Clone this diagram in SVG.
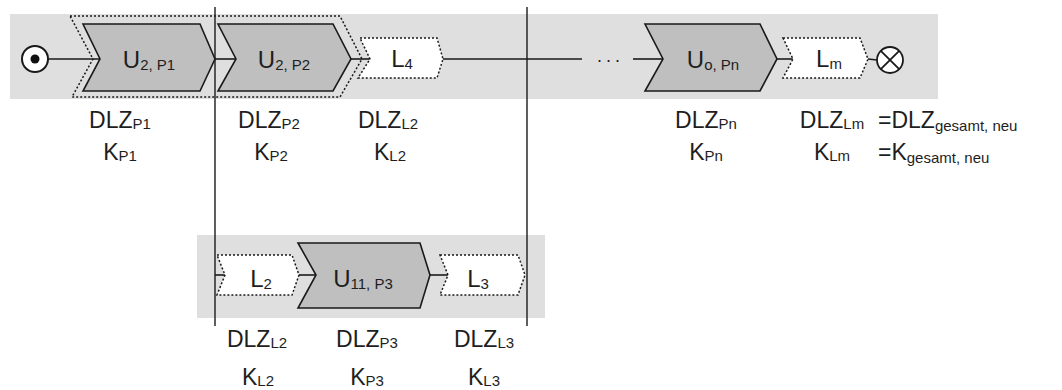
<svg xmlns="http://www.w3.org/2000/svg" width="1062" height="390" viewBox="0 0 1062 390">
<style>
  .band { fill: #dfdfdf; }
  .proc { fill: #bfbfbf; stroke: #1a1a1a; stroke-width: 1.6; stroke-linejoin: miter; }
  .log { fill: #ffffff; stroke: #1a1a1a; stroke-width: 1.5; stroke-dasharray: 2 2; }
  .grp { fill: none; stroke: #1a1a1a; stroke-width: 1.5; stroke-dasharray: 2 2; }
  .conn { stroke: #1a1a1a; stroke-width: 1.6; fill: none; }
  .div { stroke: #1a1a1a; stroke-width: 1.4; fill: none; }
  text { font-family: "Liberation Sans", Arial, sans-serif; fill: #1e1e1e; }
  .lbl { font-size: 23px; text-anchor: middle; }
  .lbls { font-size: 23px; text-anchor: start; }
  .nt { font-size: 24px; text-anchor: middle; }
  .sub { font-size: 15px; }
</style>

<!-- background bands -->
<rect class="band" x="10" y="14" width="928" height="85"/>
<rect class="band" x="197" y="235" width="348" height="83"/>

<!-- connectors -->
<g id="connectors">
  <line class="conn" x1="48" y1="59" x2="100" y2="59"/>
  <line class="conn" x1="215" y1="59" x2="236" y2="59"/>
  <line class="conn" x1="351" y1="59" x2="370" y2="59"/>
  <line class="conn" x1="443" y1="59" x2="582" y2="59"/>
  <line class="conn" x1="633" y1="59" x2="663" y2="59"/>
  <line class="conn" x1="777" y1="59" x2="793" y2="59"/>
  <line class="conn" x1="868" y1="59" x2="877" y2="60"/>
  <line class="conn" x1="215" y1="275" x2="225" y2="275"/>
  <line class="conn" x1="299" y1="275" x2="316" y2="275"/>
  <line class="conn" x1="430" y1="275" x2="448" y2="275"/>
  <text x="610" y="66" style="font-size:18px;text-anchor:middle;letter-spacing:3px">···</text>
</g>

<!-- dividers -->
<g id="dividers">
  <line class="div" x1="215" y1="7" x2="215" y2="326"/>
  <line class="div" x1="527" y1="7" x2="527" y2="326"/>
</g>

<!-- start -->
<g id="start">
  <circle cx="35" cy="59" r="13" fill="#ffffff" stroke="#1a1a1a" stroke-width="2"/>
  <circle cx="35" cy="59" r="4.5" fill="#111111"/>
</g>

<!-- group outline -->
<g id="group-p1-p2">
  <polygon class="grp" points="70,16 340,16 362,59 340,97 72,97 93,59"/>
</g>

<g id="u2p1">
  <polygon class="proc" points="83,24 200,24 215,59 200,91 83,91 100,59"/>
  <text class="nt" x="149" y="68">U<tspan class="sub" dy="2">2, P1</tspan></text>
</g>

<g id="u2p2">
  <polygon class="proc" points="218,24 333,24 351,59 333,91 218,91 236,59"/>
  <text class="nt" x="284" y="68">U<tspan class="sub" dy="2">2, P2</tspan></text>
</g>

<g id="l4">
  <polygon class="log" points="360,38 437,38 443,59 437,78 358,78 370,59"/>
  <text class="nt" x="402" y="67">L<tspan class="sub" dy="2">4</tspan></text>
</g>

<g id="uopn">
  <polygon class="proc" points="645,24 760,24 777,59 760,91 645,91 663,59"/>
  <text class="nt" x="713" y="68">U<tspan class="sub" dy="2">o, Pn</tspan></text>
</g>

<g id="lm">
  <polygon class="log" points="783,38 860,38 868,59 860,78 783,78 793,59"/>
  <text class="nt" x="829" y="67">L<tspan class="sub" dy="2">m</tspan></text>
</g>

<g id="end">
  <circle cx="890" cy="60" r="13" fill="#ffffff" stroke="#1a1a1a" stroke-width="1.8"/>
  <line x1="880.8" y1="50.8" x2="899.2" y2="69.2" stroke="#1a1a1a" stroke-width="1.8"/>
  <line x1="899.2" y1="50.8" x2="880.8" y2="69.2" stroke="#1a1a1a" stroke-width="1.8"/>
</g>

<g id="l2">
  <polygon class="log" points="217,255 292,255 299,275 292,295 217,295 225,275"/>
  <text class="nt" x="261" y="287">L<tspan class="sub" dy="2">2</tspan></text>
</g>

<g id="u11p3">
  <polygon class="proc" points="298,243 420,243 430,275 420,308 298,308 316,275"/>
  <text class="nt" x="363" y="287">U<tspan class="sub" dy="2">11, P3</tspan></text>
</g>

<g id="l3">
  <polygon class="log" points="440,255 518,255 525,275 518,295 440,295 448,275"/>
  <text class="nt" x="478" y="287">L<tspan class="sub" dy="2">3</tspan></text>
</g>

<!-- metrics labels -->
<g id="labels">
  <text class="lbl" x="120" y="128">DLZ<tspan class="sub" dy="1">P1</tspan></text>
  <text class="lbl" x="120" y="160">K<tspan class="sub" dy="1">P1</tspan></text>
  <text class="lbl" x="269" y="128">DLZ<tspan class="sub" dy="1">P2</tspan></text>
  <text class="lbl" x="271" y="160">K<tspan class="sub" dy="1">P2</tspan></text>
  <text class="lbl" x="388" y="128">DLZ<tspan class="sub" dy="1">L2</tspan></text>
  <text class="lbl" x="390" y="160">K<tspan class="sub" dy="1">L2</tspan></text>
  <text class="lbl" x="706" y="128">DLZ<tspan class="sub" dy="1">Pn</tspan></text>
  <text class="lbl" x="706" y="160">K<tspan class="sub" dy="1">Pn</tspan></text>
  <text class="lbl" x="832" y="128">DLZ<tspan class="sub" dy="1">Lm</tspan></text>
  <text class="lbl" x="832" y="160">K<tspan class="sub" dy="1">Lm</tspan></text>
  <text class="lbls" x="878" y="128">=DLZ<tspan class="sub" dy="3">gesamt, neu</tspan></text>
  <text class="lbls" x="878" y="160">=K<tspan class="sub" dy="3">gesamt, neu</tspan></text>
  <text class="lbl" x="257" y="347">DLZ<tspan class="sub" dy="1">L2</tspan></text>
  <text class="lbl" x="258" y="385">K<tspan class="sub" dy="1">L2</tspan></text>
  <text class="lbl" x="367" y="347">DLZ<tspan class="sub" dy="1">P3</tspan></text>
  <text class="lbl" x="367" y="385">K<tspan class="sub" dy="1">P3</tspan></text>
  <text class="lbl" x="484" y="347">DLZ<tspan class="sub" dy="1">L3</tspan></text>
  <text class="lbl" x="484" y="385">K<tspan class="sub" dy="1">L3</tspan></text>
</g>
</svg>
